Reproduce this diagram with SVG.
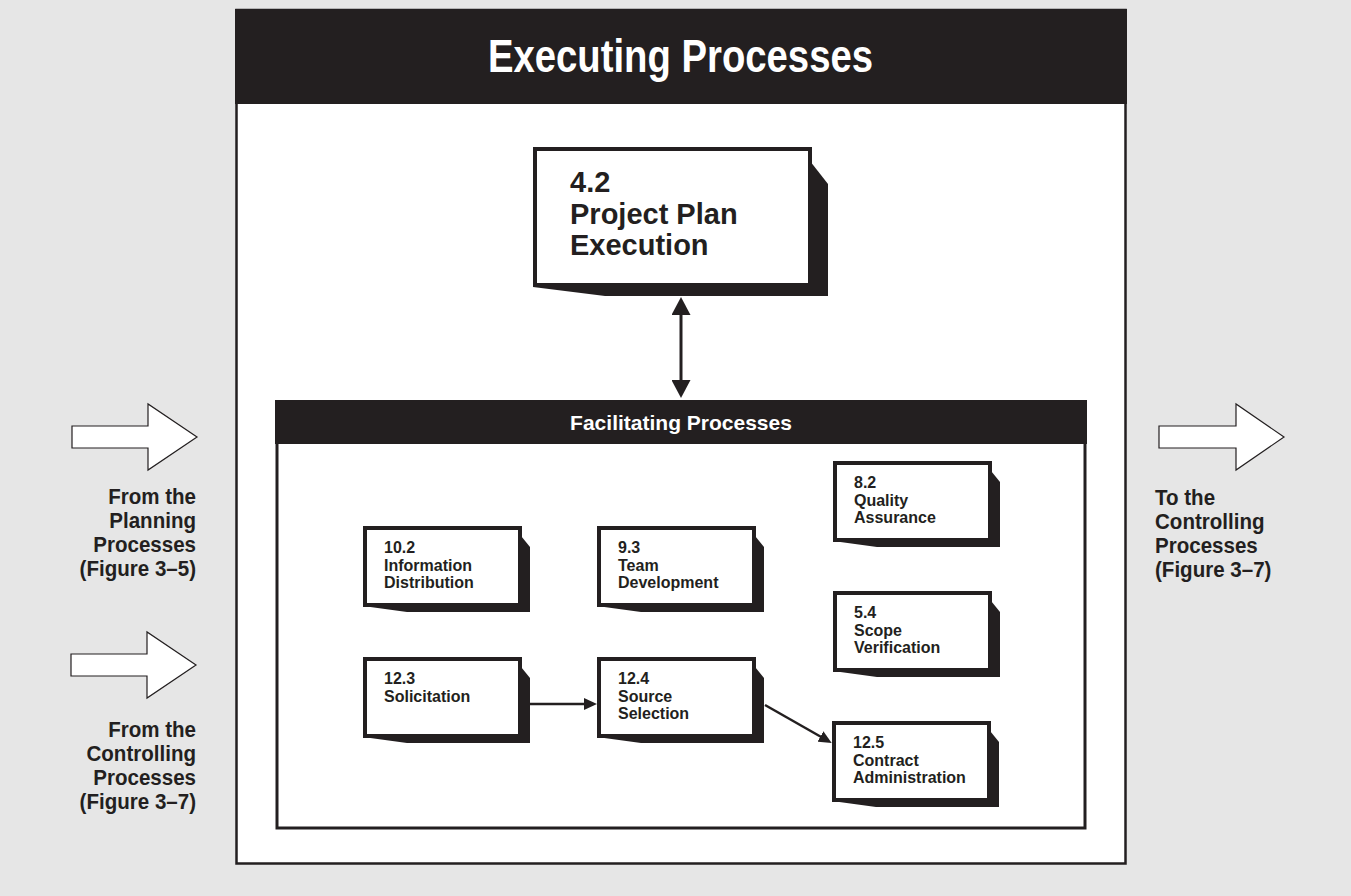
<svg xmlns="http://www.w3.org/2000/svg" width="1351" height="896" viewBox="0 0 1351 896">
<style>
.t{font-family:"Liberation Sans",Arial,sans-serif;fill:#231f20;font-weight:bold}
.box{fill:#fff;stroke:#231f20;stroke-width:4}
.sh{fill:#231f20}
.sm{font-size:16px}
.side{font-size:21.4px}
.blk{fill:#fff;stroke:#231f20;stroke-width:1.2}
.con{stroke:#231f20;fill:none}
</style>
<defs>
<marker id="big" viewBox="0 0 18 19" refX="10" refY="9.5" markerWidth="18" markerHeight="19" orient="auto-start-reverse" markerUnits="userSpaceOnUse"><path d="M0,0 L18,9.5 L0,19 z" fill="#231f20"/></marker>
<marker id="sml" viewBox="0 0 13 12" refX="7" refY="6" markerWidth="13" markerHeight="12" orient="auto" markerUnits="userSpaceOnUse"><path d="M0,0 L13,6 L0,12 z" fill="#231f20"/></marker>
</defs>
<rect width="1351" height="896" fill="#e6e6e6"/>
<g id="frame">
<rect x="236.5" y="10" width="889" height="853.5" fill="#fff" stroke="#231f20" stroke-width="2.5"/>
<rect x="235" y="9" width="892" height="95" fill="#231f20"/>
<text class="t" x="680.5" y="72" text-anchor="middle" font-size="47" textLength="385" lengthAdjust="spacingAndGlyphs" style="fill:#fff">Executing Processes</text>
</g>
<g id="facilitating">
<rect x="277" y="401.5" width="808" height="426.5" fill="#fff" stroke="#231f20" stroke-width="3"/>
<rect x="275" y="400" width="812" height="44" fill="#231f20"/>
<text class="t" x="681" y="430" text-anchor="middle" font-size="21" style="fill:#fff">Facilitating Processes</text>
</g>
<g id="n42">
<polygon class="sh" points="799,147 828,184 828,296 605,296 533,287 533,147"/>
<rect class="box" x="535" y="149" width="275" height="136"/>
<text class="t" font-size="29"><tspan x="570" y="192">4.2</tspan><tspan x="570" y="223.5">Project Plan</tspan><tspan x="570" y="255">Execution</tspan></text>
</g>
<g id="n102">
<polygon class="sh" points="513,526 530,547 530,612 407,612 363,606 363,526"/>
<rect class="box" x="365" y="528" width="155" height="77"/>
<text class="t sm"><tspan x="384" y="553">10.2</tspan><tspan x="384" y="570.5">Information</tspan><tspan x="384" y="588">Distribution</tspan></text>
</g>
<g id="n93">
<polygon class="sh" points="747,526 764,547 764,612 641,612 597,606 597,526"/>
<rect class="box" x="599" y="528" width="155" height="77"/>
<text class="t sm"><tspan x="618" y="553">9.3</tspan><tspan x="618" y="570.5">Team</tspan><tspan x="618" y="588">Development</tspan></text>
</g>
<g id="n82">
<polygon class="sh" points="983,461 1000,482 1000,547 877,547 833,541 833,461"/>
<rect class="box" x="835" y="463" width="155" height="77"/>
<text class="t sm"><tspan x="854" y="488">8.2</tspan><tspan x="854" y="505.5">Quality</tspan><tspan x="854" y="523">Assurance</tspan></text>
</g>
<g id="n54">
<polygon class="sh" points="983,591 1000,612 1000,677 877,677 833,671 833,591"/>
<rect class="box" x="835" y="593" width="155" height="77"/>
<text class="t sm"><tspan x="854" y="618">5.4</tspan><tspan x="854" y="635.5">Scope</tspan><tspan x="854" y="653">Verification</tspan></text>
</g>
<g id="n123">
<polygon class="sh" points="513,657 530,678 530,743 407,743 363,737 363,657"/>
<rect class="box" x="365" y="659" width="155" height="77"/>
<text class="t sm"><tspan x="384" y="684">12.3</tspan><tspan x="384" y="701.5">Solicitation</tspan></text>
</g>
<g id="n124">
<polygon class="sh" points="747,657 764,678 764,743 641,743 597,737 597,657"/>
<rect class="box" x="599" y="659" width="155" height="77"/>
<text class="t sm"><tspan x="618" y="684">12.4</tspan><tspan x="618" y="701.5">Source</tspan><tspan x="618" y="719">Selection</tspan></text>
</g>
<g id="n125">
<polygon class="sh" points="982,721 999,742 999,807 876,807 832,801 832,721"/>
<rect class="box" x="834" y="723" width="155" height="77"/>
<text class="t sm"><tspan x="853" y="748">12.5</tspan><tspan x="853" y="765.5">Contract</tspan><tspan x="853" y="783">Administration</tspan></text>
</g>
<g id="in1">
<polygon class="blk" points="72,426 148,426 148,404 197,437 148,470 148,448 72,448"/>
<g transform="translate(196,0) scale(0.96,1)"><text class="t side" text-anchor="end"><tspan x="0" y="504">From the</tspan><tspan x="0" y="528">Planning</tspan><tspan x="0" y="552">Processes</tspan><tspan x="0" y="576">(Figure 3–5)</tspan></text></g>
</g>
<g id="in2">
<polygon class="blk" points="71,654 147,654 147,632 196,665 147,698 147,676 71,676"/>
<g transform="translate(196,0) scale(0.96,1)"><text class="t side" text-anchor="end"><tspan x="0" y="737">From the</tspan><tspan x="0" y="761">Controlling</tspan><tspan x="0" y="785">Processes</tspan><tspan x="0" y="809">(Figure 3–7)</tspan></text></g>
</g>
<g id="out1">
<polygon class="blk" points="1159,426 1236,426 1236,404 1284,437 1236,470 1236,448 1159,448"/>
<g transform="translate(1155,0) scale(0.96,1)"><text class="t side"><tspan x="0" y="505">To the</tspan><tspan x="0" y="529">Controlling</tspan><tspan x="0" y="553">Processes</tspan><tspan x="0" y="577">(Figure 3–7)</tspan></text></g>
</g>
<g id="connectors">
<line class="con" x1="681" y1="305" x2="681" y2="390" stroke-width="3" marker-start="url(#big)" marker-end="url(#big)"/>
<line class="con" x1="530" y1="704" x2="591" y2="704" stroke-width="2.5" marker-end="url(#sml)"/>
<line class="con" x1="765" y1="705" x2="826.5" y2="740" stroke-width="2.5" marker-end="url(#sml)"/>
</g>
</svg>
